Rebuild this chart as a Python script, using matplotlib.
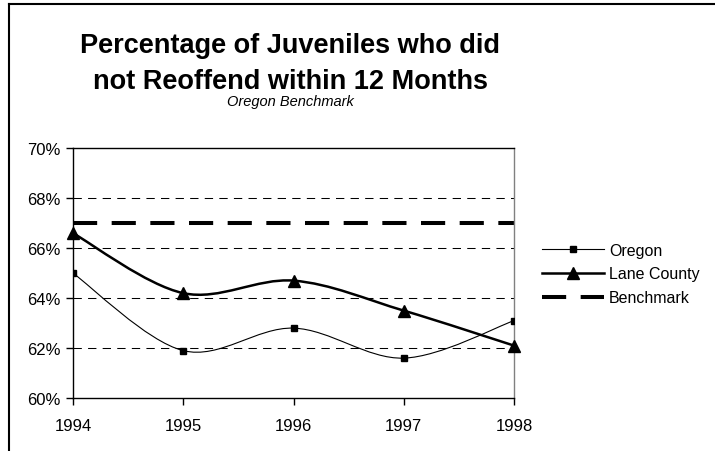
import matplotlib
matplotlib.use("Agg")
import matplotlib.pyplot as plt
from matplotlib.path import Path
from matplotlib.patches import PathPatch
from matplotlib.lines import Line2D
from matplotlib.ticker import FuncFormatter

plt.rcParams['font.family'] = ['Liberation Sans', 'DejaVu Sans']

years = [1994, 1995, 1996, 1997, 1998]
oregon = [65.0, 61.9, 62.8, 61.6, 63.1]
lane_county = [66.6, 64.2, 64.7, 63.5, 62.1]
benchmark = 67.0
y_ticks = [60, 62, 64, 66, 68, 70]


def smooth_path(xs, ys):
    # Excel-style smoothed line: cubic Bezier through each point
    pts = list(zip(xs, ys))
    n = len(pts)
    verts = [pts[0]]
    codes = [Path.MOVETO]
    for i in range(n - 1):
        p0 = pts[max(i - 1, 0)]
        p1 = pts[i]
        p2 = pts[i + 1]
        p3 = pts[min(i + 2, n - 1)]
        c1 = (p1[0] + (p2[0] - p0[0]) / 6, p1[1] + (p2[1] - p0[1]) / 6)
        c2 = (p2[0] - (p3[0] - p1[0]) / 6, p2[1] - (p3[1] - p1[1]) / 6)
        verts += [c1, c2, p2]
        codes += [Path.CURVE4] * 3
    return Path(verts, codes)


fig = plt.figure(figsize=(7.15, 4.52), dpi=100)
ax = fig.add_axes([0.102, 0.117, 0.617, 0.553])

for t in y_ticks[1:-1]:
    ax.axhline(t, color='black', lw=0.75, dashes=(8, 6), zorder=1)

ax.axhline(benchmark, color='black', lw=2.9, dashes=(6, 3.6), zorder=2)

ax.add_patch(PathPatch(smooth_path(years, oregon), fill=False,
                       edgecolor='black', lw=0.8, zorder=3))
ax.plot(years, oregon, ls='none', marker='s', ms=4.5, color='black', zorder=4)

ax.add_patch(PathPatch(smooth_path(years, lane_county), fill=False,
                       edgecolor='black', lw=1.8, zorder=3))
ax.plot(years, lane_county, ls='none', marker='^', ms=8.5, color='black',
        zorder=4, clip_on=False)

ax.set_xlim(1994, 1998)
ax.set_ylim(60, 70)
ax.set_xticks(years)
ax.set_yticks(y_ticks)
ax.yaxis.set_major_formatter(FuncFormatter(lambda v, p: f"{v:.0f}%"))
ax.tick_params(direction='out', length=5, width=1, labelsize=12, pad=4)
ax.tick_params(axis='x', pad=9)
for side in ['left', 'bottom', 'top']:
    ax.spines[side].set_linewidth(1)
ax.spines['right'].set_color('#808080')
ax.spines['right'].set_linewidth(1)

handles = [
    Line2D([], [], color='black', lw=0.8, marker='s', ms=4.5),
    Line2D([], [], color='black', lw=1.8, marker='^', ms=8.5),
    Line2D([], [], color='black', lw=2.9, dashes=(6, 3.6)),
]
fig.legend(handles, ['Oregon', 'Lane County', 'Benchmark'],
           loc='center left', bbox_to_anchor=(0.758, 0.392), frameon=False,
           fontsize=11.5, handlelength=3.9, handletextpad=0.3,
           labelspacing=0.55, borderpad=0, borderaxespad=0)

fig.text(0.406, 1 - 64 / 452, "Percentage of Juveniles who did\nnot Reoffend within 12 Months",
         ha='center', va='center', fontsize=19.5, fontweight='bold', linespacing=1.5)
fig.text(0.406, 1 - 102 / 452, "Oregon Benchmark", ha='center', va='center',
         fontsize=10.5, style='italic')

# chart border, cut off at the right and bottom edges
fig.add_artist(Line2D([8.5 / 715, 8.5 / 715], [0, 1 - 5 / 452], color='black', lw=1.5))
fig.add_artist(Line2D([8.5 / 715, 1], [1 - 5 / 452, 1 - 5 / 452], color='black', lw=1.5))

fig.savefig("out.png", dpi=100)
